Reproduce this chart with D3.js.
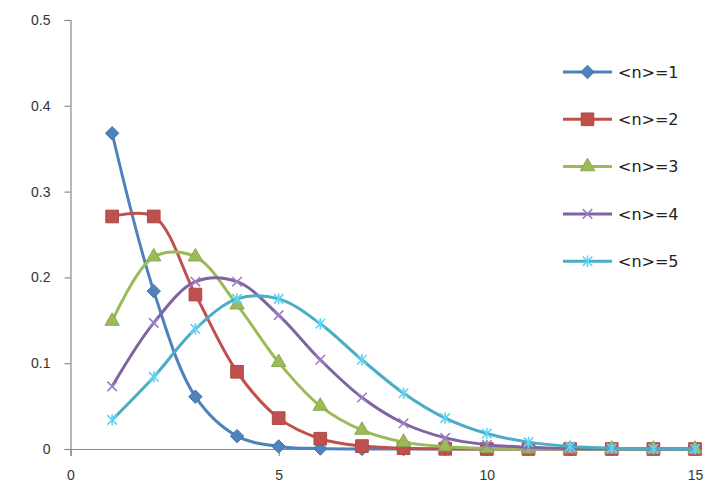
<!DOCTYPE html>
<html>
<head>
<meta charset="utf-8">
<script src="https://cdn.jsdelivr.net/npm/d3@7/dist/d3.min.js"></script>
<style>
  html, body { margin: 0; padding: 0; background: #fff; }
  svg { display: block; }
</style>
</head>
<body>
<div id="chart"></div>
<script>
// x positions (n)
const nValues = [1, 2, 3, 4, 5, 6, 7, 8, 9, 10, 11, 12, 13, 14, 15];

// P(n) for each mean
const mean1 = [0.368, 0.184, 0.061, 0.015, 0.003, 0.0005, 0.0001, 0, 0, 0, 0, 0, 0, 0, 0];
const mean2 = [0.271, 0.271, 0.180, 0.090, 0.036, 0.012, 0.0034, 0.0009, 0.0002, 0, 0, 0, 0, 0, 0];
const mean3 = [0.149, 0.224, 0.224, 0.168, 0.101, 0.050, 0.022, 0.008, 0.0027, 0.0008, 0.0002, 0.0001, 0, 0, 0];
const mean4 = [0.073, 0.147, 0.195, 0.195, 0.156, 0.104, 0.060, 0.030, 0.013, 0.005, 0.002, 0.0006, 0.0002, 0.0001, 0];
const mean5 = [0.034, 0.084, 0.140, 0.175, 0.175, 0.146, 0.104, 0.065, 0.036, 0.018, 0.008, 0.003, 0.001, 0.0003, 0.0001];

const seriesNames = ["<n>=1", "<n>=2", "<n>=3", "<n>=4", "<n>=5"];
const xTicks = [0, 5, 10, 15];
const yTicks = [0, 0.1, 0.2, 0.3, 0.4, 0.5];

(function() {
	const width = 711, height = 491;
	const colors = ["#4F81BD", "#C0504D", "#9BBB59", "#8064A2", "#4BACC6"];
	const allSeries = [mean1, mean2, mean3, mean4, mean5];

	// marker shapes, excel-ish
	const diamond = {
		draw(ctx, size) {
			const r = Math.sqrt(size / 2);
			ctx.moveTo(0, -r); ctx.lineTo(r, 0); ctx.lineTo(0, r); ctx.lineTo(-r, 0); ctx.closePath();
		}
	};
	const cross = {
		draw(ctx, size) {
			const r = Math.sqrt(size) / 2;
			ctx.moveTo(-r, -r); ctx.lineTo(r, r);
			ctx.moveTo(r, -r); ctx.lineTo(-r, r);
		}
	};
	const star = {
		draw(ctx, size) {
			const r = Math.sqrt(size) / 2;
			ctx.moveTo(-r, -r); ctx.lineTo(r, r);
			ctx.moveTo(r, -r); ctx.lineTo(-r, r);
			ctx.moveTo(0, -r * 1.2); ctx.lineTo(0, r * 1.2);
		}
	};
	const markers = [
		{ type: diamond, size: 90, filled: true },
		{ type: d3.symbolSquare, size: 160, filled: true },
		{ type: d3.symbolTriangle, size: 90, filled: true },
		{ type: cross, size: 90, filled: false },
		{ type: star, size: 90, filled: false }
	];

	const x = d3.scaleLinear().domain([0, 15]).range([70.5, 695]);
	const y = d3.scaleLinear().domain([0, 0.5]).range([449, 20]);

	const svg = d3.select("#chart").append("svg")
		.attr("width", width)
		.attr("height", height)
		.style("font-family", "'DejaVu Sans', sans-serif");

	svg.append("rect").attr("width", width).attr("height", height).attr("fill", "#fff");

	// axes
	const yAxis = svg.append("g")
		.attr("transform", `translate(${x(0)},0)`)
		.call(d3.axisLeft(y).tickValues(yTicks).tickSize(6).tickPadding(14)
			.tickFormat(d => d === 0 ? "0" : d3.format(".1f")(d)));
	const xAxis = svg.append("g")
		.attr("transform", `translate(0,${y(0)})`)
		.call(d3.axisBottom(x).tickValues(xTicks).tickSize(7).tickPadding(14)
			.tickFormat(d3.format("d")));

	[xAxis, yAxis].forEach(g => {
		g.select(".domain").attr("stroke", "#8a8a8a").attr("stroke-width", 1.2);
		g.selectAll(".tick line").attr("stroke", "#8a8a8a").attr("stroke-width", 1.2);
		g.selectAll(".tick text").attr("fill", "#333").style("font-size", "14px");
	});

	// series
	const line = d3.line()
		.x((d, i) => x(nValues[i]))
		.y(d => y(d))
		.curve(d3.curveCatmullRom.alpha(0.5));

	const plot = svg.append("g");
	allSeries.forEach((vals, s) => {
		const g = plot.append("g");
		g.append("path")
			.attr("d", line(vals))
			.attr("fill", "none")
			.attr("stroke", colors[s])
			.attr("stroke-width", 3)
			.attr("stroke-linejoin", "round");

		const m = markers[s];
		const sym = d3.symbol().type(m.type).size(m.size);
		g.selectAll("path.mk")
			.data(vals)
			.join("path")
			.attr("class", "mk")
			.attr("transform", (d, i) => `translate(${x(nValues[i])},${y(d)})`)
			.attr("d", sym)
			.attr("fill", m.filled ? colors[s] : "none")
			.attr("stroke", m.filled ? d3.color(colors[s]).darker(0.3) : d3.color(colors[s]).brighter(0.6))
			.attr("stroke-width", m.filled ? 1 : 1.6);
	});

	// legend
	const legend = svg.append("g").attr("transform", "translate(563,72)");
	seriesNames.forEach((name, s) => {
		const row = legend.append("g").attr("transform", `translate(0,${s * 47.3})`);
		row.append("line")
			.attr("x1", 0).attr("x2", 49).attr("y1", 0).attr("y2", 0)
			.attr("stroke", colors[s]).attr("stroke-width", 3);
		const m = markers[s];
		row.append("path")
			.attr("transform", "translate(24.5,0)")
			.attr("d", d3.symbol().type(m.type).size(m.size)())
			.attr("fill", m.filled ? colors[s] : "none")
			.attr("stroke", m.filled ? d3.color(colors[s]).darker(0.3) : d3.color(colors[s]).brighter(0.6))
			.attr("stroke-width", m.filled ? 1 : 1.6);
		row.append("text")
			.attr("x", 55)
			.attr("dy", "0.35em")
			.attr("fill", "#222")
			.style("font-size", "16px")
			.text(name);
	});
})();
</script>
</body>
</html>
